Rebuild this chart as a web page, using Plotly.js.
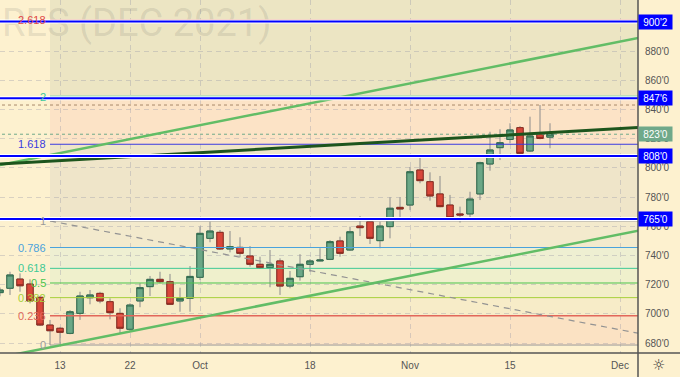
<!DOCTYPE html>
<html><head><meta charset="utf-8">
<script src="https://cdn.plot.ly/plotly-3.0.1.min.js"></script>
<style>html,body{margin:0;padding:0;background:#fdf1cf;}#chart{width:680px;height:377px;}</style>
</head><body><div id="chart"></div>
<script>
// ---- data ----
const dates = ['2021-09-02','2021-09-03','2021-09-07','2021-09-08','2021-09-09','2021-09-10','2021-09-13','2021-09-14','2021-09-15','2021-09-16','2021-09-17','2021-09-20','2021-09-21','2021-09-22','2021-09-23','2021-09-24','2021-09-27','2021-09-28','2021-09-29','2021-09-30','2021-10-01','2021-10-04','2021-10-05','2021-10-06','2021-10-07','2021-10-08','2021-10-11','2021-10-12','2021-10-13','2021-10-14','2021-10-15','2021-10-18','2021-10-19','2021-10-20','2021-10-21','2021-10-22','2021-10-25','2021-10-26','2021-10-27','2021-10-28','2021-10-29','2021-11-01','2021-11-02','2021-11-03','2021-11-04','2021-11-05','2021-11-08','2021-11-09','2021-11-10','2021-11-11','2021-11-12','2021-11-15','2021-11-16','2021-11-17','2021-11-18','2021-11-19'];
const opens  = [714.5,717.5,723.8,720.4,711.3,692.3,690.1,686.6,700.3,711.0,714.0,708.3,700.3,689.4,708.8,718.6,723.6,722.0,708.8,710.6,725.0,751.7,755.8,744.4,745.5,739.6,733.9,731.6,736.2,719.0,725.4,733.9,736.2,737.3,749.9,743.7,760.1,763.1,750.1,759.7,772.9,774.5,798.5,790.5,782.1,774.5,768.4,768.4,782.1,802.6,813.8,819.4,827.5,811.5,824.0,821.0];
const highs  = [718.0,728.8,727.7,723.6,712.2,695.8,691.0,702.6,715.1,716.3,715.1,710.6,703.8,707.2,720.9,725.9,728.8,727.3,717.9,732.7,759.7,763.1,757.4,756.7,752.4,746.4,739.1,743.7,738.0,729.3,740.8,737.5,744.9,750.5,752.8,759.7,767.0,764.7,763.1,779.8,779.8,800.5,807.2,796.9,794.4,781.4,773.4,783.6,804.2,824.7,826.4,830.5,828.6,835.0,843.0,830.5];
const lows   = [712.0,712.9,715.1,707.2,691.6,678.6,679.3,686.0,695.8,706.5,707.2,696.2,686.6,687.7,704.5,712.2,720.9,706.0,701.4,701.4,723.2,749.0,743.7,742.1,738.7,732.3,730.7,718.2,712.9,717.5,722.7,728.8,736.0,736.8,739.1,743.2,753.3,747.8,744.9,751.7,763.8,771.0,789.4,777.5,773.0,765.4,762.5,765.4,777.9,798.0,805.3,816.8,809.5,810.8,819.5,813.4];
const closes = [716.3,726.6,719.2,708.8,692.3,688.4,687.3,701.4,712.2,712.9,708.8,700.8,690.1,706.0,717.9,723.6,722.0,706.5,710.6,725.6,755.1,756.7,744.4,746.0,741.4,733.9,731.6,733.9,719.0,724.3,733.9,736.2,736.8,749.4,741.4,756.2,759.0,751.7,760.1,772.3,771.8,797.3,791.2,780.7,773.4,765.8,767.7,778.6,803.5,812.2,817.2,825.9,809.9,821.8,820.1,823.0];

const holidays = ['2021-09-06','2021-11-25'];
const xTickDates = ['2021-09-13','2021-09-22','2021-10-01','2021-10-18','2021-11-01','2021-11-15','2021-12-01'];
const xTickText  = ['13','22','Oct','18','Nov','15','Dec'];
const yTickVals  = [680,700,720,740,760,780,800,820,840,860,880,900];
const yTickText  = yTickVals.map(v => v + "'0");

// fibonacci retracement (anchors in trading-day index / price)
const fibAnchorX = [5, 70];
const fibAnchorY = [763.6, 678.6];
const fibRatios  = [0, 0.236, 0.382, 0.5, 0.618, 0.786, 1, 1.618, 2, 2.618, 3.618];
const fibLabels  = ['0','0.236','0.382','0.5','0.618','0.786','1','1.618','2','2.618',''];

// trend lines (trading-day index / price)
const trendDarkX = [0, 64],   trendDarkY = [802.6, 827.6];
const chanUpX = [0, 64],      chanUpY = [801.9, 889.2];
const chanLowX = [0, 64],     chanLowY = [670.2, 757.2];

// key horizontal levels
const keyLevels = [900.2, 847.6, 808.0, 765.0];
const keyLabels = ["900'2", "847'6", "808'0", "765'0"];
const lastPrice = 823.0, lastLabel = "823'0";
const highPrice = 843.0;

// ---- styles ----
const fibColors = ['#9a9a9a','#e2675a','#a6d03a','#4cc44c','#3ec995','#4aa2dc','#9a9a9a','#3a3ae0','#3cc99a','#e04848','#888'];
const fibWidths = [1,1.5,1,1,1,1,1,1,2,1,1];
const bandColors = ['#fbe2c3','#f7ecc8','#f2eec8','#eff0cc','#eeefd2','#f3eacd','#efe5c9','#fce3c6','#ece5c3','#ece5c3'];

// ---- trading calendar ----
function ymd(d){return d.toISOString().slice(0,10);}
const cal = {}; const calList = [];
(function(){
  let d = new Date(Date.UTC(2021,8,2));
  const end = new Date(Date.UTC(2021,11,31));
  while (d <= end) {
    const s = ymd(d), wd = d.getUTCDay();
    if (wd !== 0 && wd !== 6 && holidays.indexOf(s) < 0) { cal[s] = calList.length; calList.push(s); }
    d = new Date(d.getTime() + 86400000);
  }
})();
const xs = dates.map(d => cal[d]);
const xTickVals = xTickDates.map(d => cal[d]);

const fibVal = r => fibAnchorY[1] + r * (fibAnchorY[0] - fibAnchorY[1]);
const fibVals = fibRatios.map(fibVal);

const traces = [];
// watermark
traces.push({type:'scatter', mode:'text', x:[0.2], y:[896.5], text:['RES (DEC 2021)'], textposition:'middle right',
  textfont:{family:'Roboto', size:38, color:'rgba(90,90,90,0.14)'}, hoverinfo:'skip', showlegend:false, cliponaxis:false});
// fib level lines
fibVals.forEach((v,i) => {
  if (!fibLabels[i]) return;
  traces.push({type:'scatter', mode:'lines', x:[fibAnchorX[0], 100], y:[v, v],
    line:{color:fibColors[i], width:fibWidths[i]}, hoverinfo:'skip', showlegend:false});
});
// fib trend (dashed)
traces.push({type:'scatter', mode:'lines', x:fibAnchorX, y:fibAnchorY, line:{color:'#939393', width:1.2, dash:'6px,5px'}, hoverinfo:'skip', showlegend:false});
// dotted price lines
traces.push({type:'scatter', mode:'lines', x:[-10, 100], y:[highPrice, highPrice], line:{color:'#a88a6a', width:1, dash:'dot'}, hoverinfo:'skip', showlegend:false});
traces.push({type:'scatter', mode:'lines', x:[-10, 100], y:[lastPrice, lastPrice], line:{color:'#6fa98a', width:1, dash:'dot'}, hoverinfo:'skip', showlegend:false});
// channel & trend
traces.push({type:'scatter', mode:'lines', x:chanUpX, y:chanUpY, line:{color:'#62bd66', width:2.5}, hoverinfo:'skip', showlegend:false});
traces.push({type:'scatter', mode:'lines', x:chanLowX, y:chanLowY, line:{color:'#62bd66', width:2.5}, hoverinfo:'skip', showlegend:false});
traces.push({type:'scatter', mode:'lines', x:trendDarkX, y:trendDarkY, line:{color:'#1d551d', width:3}, hoverinfo:'skip', showlegend:false});
// candles: wicks
traces.push({type:'candlestick', x:xs, open:opens, high:highs, low:lows, close:closes, whiskerwidth:0,
  increasing:{line:{color:'#8c8c8c', width:1}, fillcolor:'#6ba786'},
  decreasing:{line:{color:'#8c8c8c', width:1}, fillcolor:'#d9473a'}, hoverinfo:'skip', showlegend:false});
// candles: bodies
const bodyHi = opens.map((o,i) => Math.max(o, closes[i]));
const bodyLo = opens.map((o,i) => Math.min(o, closes[i]));
traces.push({type:'candlestick', x:xs, open:opens, high:bodyHi, low:bodyLo, close:closes, whiskerwidth:0,
  increasing:{line:{color:'#2f6b4c', width:1}, fillcolor:'#6ba786'},
  decreasing:{line:{color:'#8a2a1e', width:1}, fillcolor:'#d9473a'}, hoverinfo:'skip', showlegend:false});

const shapes = [];
for (let i = 0; i < fibVals.length - 1; i++) {
  shapes.push({type:'rect', xref:'x', yref:'y', x0:fibAnchorX[0], x1:100, y0:fibVals[i], y1:fibVals[i+1],
    fillcolor:bandColors[i], line:{width:0}, layer:'below'});
}
keyLevels.forEach(v => {
  shapes.push({type:'line', xref:'paper', yref:'y', x0:0, x1:1, y0:v, y1:v, line:{color:'#ffffff', width:4}, layer:'above'});
  shapes.push({type:'line', xref:'paper', yref:'y', x0:0, x1:1, y0:v, y1:v, line:{color:'#0000ff', width:2}, layer:'above'});
});
// axis frame lines
shapes.push({type:'line', xref:'paper', yref:'paper', x0:1, x1:1, y0:-24/353, y1:1, line:{color:'#555', width:1.5}, layer:'above'});
shapes.push({type:'line', xref:'paper', yref:'paper', x0:0, x1:680/638, y0:0, y1:0, line:{color:'#555', width:1.5}, layer:'above'});

const annotations = [];
fibVals.forEach((v,i) => {
  if (!fibLabels[i]) return;
  annotations.push({xref:'x', yref:'y', x:fibAnchorX[0], y:v, text:fibLabels[i], showarrow:false, xanchor:'right', yanchor:'middle',
    xshift:-2, font:{family:'Liberation Sans, Arial, sans-serif', size:11, color:fibColors[i]}});
});
keyLevels.forEach((v,i) => {
  annotations.push({xref:'paper', yref:'y', x:1, y:v, text:keyLabels[i], showarrow:false, xanchor:'left', yanchor:'middle',
    bgcolor:'#0000ff', width:31, height:12, borderpad:1, font:{family:'Liberation Sans, Arial, sans-serif', size:10, color:'#ffffff'}});
});
annotations.push({xref:'paper', yref:'y', x:1, y:lastPrice, text:lastLabel, showarrow:false, xanchor:'left', yanchor:'middle',
  bgcolor:'#6fa98a', width:31, height:12, borderpad:1, font:{family:'Liberation Sans, Arial, sans-serif', size:10, color:'#ffffff'}});
annotations.push({xref:'paper', yref:'paper', x:659/638, y:-12/353, text:'☼', showarrow:false, xanchor:'center', yanchor:'middle',
  font:{family:'DejaVu Sans', size:15, color:'#333'}});

const gridCol = 'rgba(150,150,165,0.35)';
const layout = {
  width:680, height:377,
  margin:{l:0, r:42, t:0, b:24, pad:0},
  paper_bgcolor:'#fdf1cf', plot_bgcolor:'#fdf1cf',
  showlegend:false,
  boxmode:'overlay', boxgap:0.36, boxgroupgap:0,
  xaxis:{type:'linear', range:[0, 63.8], tickvals:xTickVals, ticktext:xTickText, showgrid:true, gridcolor:gridCol, griddash:'5px,4px',
    zeroline:false, showline:false, ticks:'', ticklabelstandoff:5, tickfont:{family:'Liberation Sans, Arial, sans-serif', size:10, color:'#555'},
    rangeslider:{visible:false}, fixedrange:true},
  yaxis:{side:'right', range:[673.15, 914.93], tickvals:yTickVals, ticktext:yTickText, showgrid:true, gridcolor:gridCol, griddash:'5px,4px',
    zeroline:false, showline:false, ticks:'', ticklabelstandoff:6, tickfont:{family:'Liberation Sans, Arial, sans-serif', size:10, color:'#555'}, fixedrange:true},
  shapes:shapes, annotations:annotations
};
Plotly.newPlot('chart', traces, layout, {displayModeBar:false, staticPlot:true});
</script></body></html>
